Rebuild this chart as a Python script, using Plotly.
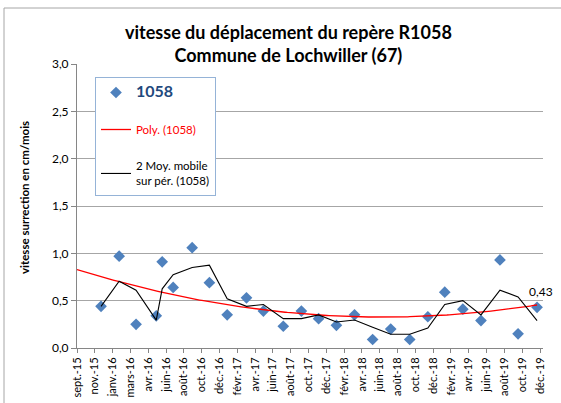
import numpy as np
import pandas as pd
import plotly.graph_objects as go

# Measurement dates and uplift speed (cm/month) for benchmark R1058
dates = [
    "2015-11-23", "2016-01-23", "2016-03-20", "2016-05-27", "2016-06-16",
    "2016-07-23", "2016-09-25", "2016-11-22", "2017-01-21", "2017-03-27",
    "2017-05-23", "2017-07-29", "2017-09-28", "2017-11-25", "2018-01-24",
    "2018-03-26", "2018-05-26", "2018-07-26", "2018-09-28", "2018-11-28",
    "2019-01-24", "2019-03-26", "2019-05-26", "2019-07-29", "2019-09-28",
    "2019-12-01",
]
speeds = [
    0.44, 0.97, 0.25, 0.34, 0.91,
    0.64, 1.06, 0.69, 0.35, 0.53,
    0.39, 0.23, 0.39, 0.31, 0.24,
    0.35, 0.09, 0.20, 0.09, 0.33,
    0.59, 0.41, 0.29, 0.93, 0.15,
    0.43,
]

# Date axis ticks (every 60 days)
tick_dates = [
    "2015-09-03", "2015-11-02", "2016-01-01", "2016-03-01", "2016-04-30",
    "2016-06-29", "2016-08-28", "2016-10-27", "2016-12-26", "2017-02-24",
    "2017-04-25", "2017-06-24", "2017-08-23", "2017-10-22", "2017-12-21",
    "2018-02-19", "2018-04-20", "2018-06-19", "2018-08-18", "2018-10-17",
    "2018-12-16", "2019-02-14", "2019-04-15", "2019-06-14", "2019-08-13",
    "2019-10-12", "2019-12-11",
]
tick_labels = [
    "sept.-15", "nov.-15", "janv.-16", "mars-16", "avr.-16",
    "juin-16", "août-16", "oct.-16", "déc.-16", "févr.-17",
    "avr.-17", "juin-17", "août-17", "oct.-17", "déc.-17",
    "févr.-18", "avr.-18", "juin-18", "août-18", "oct.-18",
    "déc.-18", "févr.-19", "avr.-19", "juin-19", "août-19",
    "oct.-19", "déc.-19",
]

x_start = "2015-09-03"
x_end = "2019-12-21"

FONT = "Lato, Carlito, sans-serif"

t = pd.to_datetime(dates)
y = np.array(speeds)

# 2nd-order polynomial trend, drawn back to the start of the axis
t0 = pd.Timestamp(x_start)
days = (t - t0).days.values.astype(float)
coef = np.polyfit(days, y, 2)
trend_days = np.linspace(0, days[-1], 200)
trend_t = t0 + pd.to_timedelta(trend_days, unit="D")
trend_y = np.polyval(coef, trend_days)

# 2-period moving average
ma = pd.Series(y).rolling(2, min_periods=1).mean().values

fig = go.Figure()

fig.add_trace(go.Scatter(
    x=t, y=y, mode="markers",
    name="<b><span style='font-size:16px;color:#1F497D'>1058</span></b>",
    marker=dict(symbol="diamond", size=9, color="#4F81BD"),
    legendgroup="a",
))
fig.add_trace(go.Scatter(
    x=trend_t, y=trend_y, mode="lines",
    name="<span style='color:#FF0000'>Poly. (1058)</span>",
    line=dict(color="#FF0000", width=1.3),
    legendgroup="b",
))
fig.add_trace(go.Scatter(
    x=t, y=ma, mode="lines",
    name="2 Moy. mobile<br>sur pér. (1058)",
    line=dict(color="#000000", width=1.1),
    legendgroup="c",
))

# value label on the last measurement
fig.add_annotation(
    x=t[-1], y=y[-1], xref="x", yref="y",
    text=f"{y[-1]:.2f}".replace(".", ","),
    showarrow=False, xshift=4, yshift=16,
    font=dict(family=FONT, size=12, color="#000000"),
)

# chart title
fig.add_annotation(
    x=(288 - 77) / 466, y=1 + (64 - 43) / 284, xref="paper", yref="paper",
    text="<b>vitesse du déplacement du repère R1058<br>Commune de Lochwiller (67)</b>",
    showarrow=False, xanchor="center", yanchor="middle",
    font=dict(family=FONT, size=18, color="#000000"),
)

# y-axis title
fig.add_annotation(
    x=(24 - 77) / 466, y=1 - (198 - 64) / 284, xref="paper", yref="paper",
    text="<b>vitesse surrection en cm/mois</b>", textangle=-90,
    showarrow=False, xanchor="center", yanchor="middle",
    font=dict(family=FONT, size=11.5, color="#000000"),
)

# chart frame
fig.add_shape(
    type="rect", xref="paper", yref="paper",
    x0=(4 - 77) / 466, x1=(575 - 77) / 466,
    y0=-(410 - 348) / 284, y1=1 + (64 - 8) / 284,
    line=dict(color="#A6A6A6", width=1), fillcolor="rgba(0,0,0,0)",
    layer="below",
)

fig.update_layout(
    width=561, height=403,
    margin=dict(l=77, r=18, t=64, b=55),
    paper_bgcolor="white", plot_bgcolor="white",
    separators=", ",
    font=dict(family=FONT, size=11, color="#000000"),
    showlegend=True,
    legend=dict(
        x=(95 - 77) / 466, y=1 - (77 - 64) / 284, xanchor="left", yanchor="top",
        bgcolor="white", bordercolor="#95B3D7", borderwidth=1,
        font=dict(family=FONT, size=11.5, color="#000000"),
        traceorder="grouped", tracegroupgap=18,
        itemwidth=30,
    ),
    xaxis=dict(
        type="date", range=[x_start, x_end], automargin=False,
        tickmode="array", tickvals=tick_dates, ticktext=tick_labels,
        tickangle=-90, ticks="outside", ticklen=4, tickcolor="#868686",
        showline=True, linecolor="#868686", linewidth=1,
        showgrid=False, zeroline=False,
        tickfont=dict(family=FONT, size=11),
    ),
    yaxis=dict(
        range=[0, 3.0], tick0=0, dtick=0.5, tickformat=".1f", automargin=False,
        ticks="outside", ticklen=5, tickcolor="#868686",
        showline=True, linecolor="#868686", linewidth=1,
        showgrid=True, gridcolor="#A6A6A6", gridwidth=1,
        zeroline=False,
        tickfont=dict(family=FONT, size=12),
    ),
)

fig.write_html("out.html")
